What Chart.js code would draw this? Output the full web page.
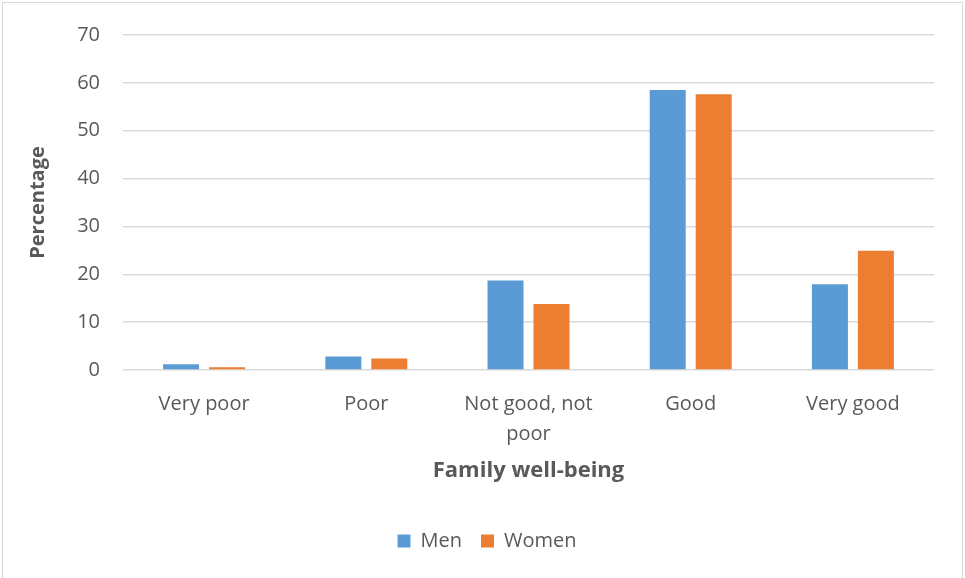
<!DOCTYPE html>
<html>
<head>
<meta charset="utf-8">
<script src="https://cdn.jsdelivr.net/npm/chart.js@4"></script>
<style>
  html, body { margin: 0; padding: 0; background: #fff; }
  #wrap { width: 965px; height: 578px; }
</style>
</head>
<body>
<div id="wrap"><canvas id="wellbeing" width="965" height="578"></canvas></div>
<script>
// family well-being by sex, percent of respondents
const categories = ['Very poor', 'Poor', ['Not good, not', 'poor'], 'Good', 'Very good'];
const men = [1.2, 2.8, 18.7, 58.5, 17.9];
const women = [0.6, 2.4, 13.8, 57.6, 24.9];
const yTicks = [0, 10, 20, 30, 40, 50, 60, 70];

const grey = '#595959';
Chart.defaults.font.family = "'Open Sans', sans-serif";
Chart.defaults.color = grey;

// thin grey frame round the whole canvas
const frame = {
  id: 'frame',
  beforeDraw(chart) {
    const ctx = chart.ctx;
    ctx.save();
    ctx.fillStyle = '#fff';
    ctx.fillRect(0, 0, chart.width, chart.height);
    ctx.strokeStyle = '#d9d9d9';
    ctx.lineWidth = 1;
    ctx.strokeRect(2.5, 2.5, chart.width - 5, chart.height + 10);
    ctx.restore();
  }
};

// legend sits centred under the plot, not under the whole canvas
const legendShift = {
  id: 'legendShift',
  afterLayout(chart) {
    chart.legend.left += 20;
    chart.legend.right += 20;
  }
};

new Chart(document.getElementById('wellbeing'), {
  type: 'bar',
  data: {
    labels: categories,
    datasets: [
      { label: 'Men', data: men, backgroundColor: '#5b9bd5' },
      { label: 'Women', data: women, backgroundColor: '#ed7d31' }
    ]
  },
  options: {
    responsive: false,
    animation: false,
    events: [],
    categoryPercentage: 0.567,
    barPercentage: 0.783,
    layout: { padding: { left: 0, right: 31, top: 32, bottom: 17 } },
    plugins: {
      tooltip: { enabled: false },
      legend: {
        position: 'bottom',
        labels: {
          boxWidth: 13,
          boxHeight: 13,
          padding: 19,
          color: grey,
          font: { size: 20 }
        }
      }
    },
    scales: {
      x: {
        grid: { display: false, drawTicks: false },
        border: { display: false },
        ticks: { padding: 19, color: grey, font: { size: 20, lineHeight: 1.5 }, maxRotation: 0 },
        title: {
          display: true,
          text: 'Family well-being',
          color: grey,
          font: { size: 22, weight: 'bold', lineHeight: 1.2 },
          padding: { top: 0, bottom: 28 }
        },
        afterFit(scale) { scale.height = 142; }
      },
      y: {
        min: 0,
        max: 70,
        afterBuildTicks(scale) { scale.ticks = yTicks.map(v => ({ value: v })); },
        grid: { color: '#d9d9d9', lineWidth: 1.5, drawTicks: false },
        border: { display: false },
        ticks: { padding: 23, color: grey, font: { size: 20 } },
        title: {
          display: true,
          text: 'Percentage',
          color: grey,
          font: { size: 20, weight: 'bold', lineHeight: 1.2 },
          padding: { top: 26, bottom: 0 }
        },
        afterFit(scale) { scale.width = 123; }
      }
    }
  },
  plugins: [frame, legendShift]
});
</script>
</body>
</html>
